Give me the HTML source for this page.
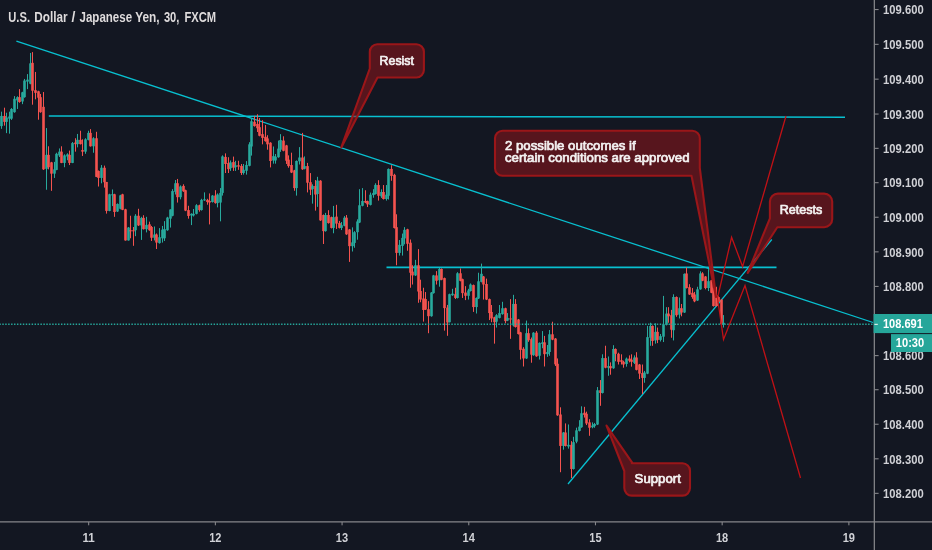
<!DOCTYPE html>
<html lang="en"><head><meta charset="utf-8"><title>U.S. Dollar / Japanese Yen, 30, FXCM</title>
<style>html,body{margin:0;padding:0;background:#131722;overflow:hidden}svg{display:block}text{font-family:"Liberation Sans", "DejaVu Sans", sans-serif}</style></head><body>
<svg width="932" height="550" viewBox="0 0 932 550">
<rect width="932" height="550" fill="#131722"/>
<g stroke="#08c0d0" stroke-linecap="butt" fill="none">
<line x1="16.4" y1="41.1" x2="873.1" y2="322.5" stroke-width="1.3"/>
<line x1="48.8" y1="116.0" x2="845" y2="117.2" stroke-width="1.45"/>
<line x1="386.5" y1="267.4" x2="776.5" y2="267.4" stroke-width="1.6"/>
<line x1="568" y1="484" x2="771.8" y2="239.5" stroke-width="1.3"/>
</g>
<g id="candles">
<rect x="1" y="111.65" width="1" height="17.17" fill="#28aa9d"/><rect x="0.2" y="115.94" width="2.6" height="10.19" fill="#28aa9d"/>
<rect x="4" y="107.68" width="1" height="17.92" fill="#f5534f"/><rect x="3.2" y="115.94" width="2.6" height="5.9" fill="#f5534f"/>
<rect x="6" y="112.73" width="1" height="20.39" fill="#28aa9d"/><rect x="5.2" y="117.55" width="2.6" height="4.29" fill="#28aa9d"/>
<rect x="9" y="111.65" width="1" height="22" fill="#28aa9d"/><rect x="8.2" y="116.48" width="2.6" height="2.15" fill="#28aa9d"/>
<rect x="11" y="108.11" width="1" height="11.8" fill="#28aa9d"/><rect x="10.2" y="108.97" width="2.6" height="9.66" fill="#28aa9d"/>
<rect x="14" y="96.09" width="1" height="16.63" fill="#28aa9d"/><rect x="13.2" y="98.78" width="2.6" height="13.41" fill="#28aa9d"/>
<rect x="17" y="96.31" width="1" height="12.66" fill="#28aa9d"/><rect x="16.2" y="97.17" width="2.6" height="3.22" fill="#28aa9d"/>
<rect x="19" y="89.12" width="1" height="13.63" fill="#f5534f"/><rect x="18.2" y="97.17" width="2.6" height="4.83" fill="#f5534f"/>
<rect x="22" y="91.8" width="1" height="12.34" fill="#28aa9d"/><rect x="21.2" y="92.34" width="2.6" height="9.12" fill="#28aa9d"/>
<rect x="24" y="78.93" width="1" height="18.78" fill="#28aa9d"/><rect x="23.2" y="80.54" width="2.6" height="16.63" fill="#28aa9d"/>
<rect x="27" y="74.1" width="1" height="15.02" fill="#28aa9d"/><rect x="26.2" y="79.68" width="2.6" height="1.93" fill="#28aa9d"/>
<rect x="30" y="52.96" width="1" height="31.33" fill="#28aa9d"/><rect x="29.2" y="63.37" width="2.6" height="20.39" fill="#28aa9d"/>
<rect x="32" y="52.1" width="1" height="52.58" fill="#f5534f"/><rect x="31.2" y="62.83" width="2.6" height="27.9" fill="#f5534f"/>
<rect x="35" y="71.95" width="1" height="27.36" fill="#f5534f"/><rect x="34.2" y="90.19" width="2.6" height="2.68" fill="#f5534f"/>
<rect x="38" y="90.73" width="1" height="28.97" fill="#f5534f"/><rect x="37.2" y="91.27" width="2.6" height="6.44" fill="#f5534f"/>
<rect x="40" y="93.95" width="1" height="18.78" fill="#f5534f"/><rect x="39.2" y="97.17" width="2.6" height="15.02" fill="#f5534f"/>
<rect x="43" y="92.02" width="1" height="77.88" fill="#f5534f"/><rect x="42.2" y="106.82" width="2.6" height="62.53" fill="#f5534f"/>
<rect x="46" y="128.05" width="1" height="61.7" fill="#28aa9d"/><rect x="45.2" y="154.87" width="2.6" height="13.95" fill="#28aa9d"/>
<rect x="48" y="146.29" width="1" height="23.07" fill="#f5534f"/><rect x="47.2" y="154.87" width="2.6" height="12.34" fill="#f5534f"/>
<rect x="51" y="161.85" width="1" height="28.97" fill="#f5534f"/><rect x="50.2" y="162.38" width="2.6" height="11.27" fill="#f5534f"/>
<rect x="54" y="161.85" width="1" height="16.09" fill="#28aa9d"/><rect x="53.2" y="169.36" width="2.6" height="4.29" fill="#28aa9d"/>
<rect x="56" y="152.73" width="1" height="17.49" fill="#28aa9d"/><rect x="55.2" y="153.8" width="2.6" height="16.09" fill="#28aa9d"/>
<rect x="59" y="148.43" width="1" height="8.58" fill="#28aa9d"/><rect x="58.2" y="151.65" width="2.6" height="3.76" fill="#28aa9d"/>
<rect x="61" y="146.29" width="1" height="16.85" fill="#f5534f"/><rect x="60.2" y="151.65" width="2.6" height="11.27" fill="#f5534f"/>
<rect x="64" y="154.33" width="1" height="12.88" fill="#28aa9d"/><rect x="63.2" y="155.41" width="2.6" height="7.51" fill="#28aa9d"/>
<rect x="67" y="153.26" width="1" height="6.97" fill="#28aa9d"/><rect x="66.2" y="154.33" width="2.6" height="2.15" fill="#28aa9d"/>
<rect x="69" y="150.58" width="1" height="14.48" fill="#f5534f"/><rect x="68.2" y="154.87" width="2.6" height="8.05" fill="#f5534f"/>
<rect x="72" y="142" width="1" height="21.14" fill="#28aa9d"/><rect x="71.2" y="143.07" width="2.6" height="19.85" fill="#28aa9d"/>
<rect x="75" y="138.24" width="1" height="13.41" fill="#f5534f"/><rect x="74.2" y="142.53" width="2.6" height="1.61" fill="#f5534f"/>
<rect x="77" y="133.95" width="1" height="13.41" fill="#28aa9d"/><rect x="76.2" y="139.85" width="2.6" height="4.29" fill="#28aa9d"/>
<rect x="80" y="130.73" width="1" height="13.73" fill="#f5534f"/><rect x="79.2" y="139.85" width="2.6" height="4.29" fill="#f5534f"/>
<rect x="82" y="139.31" width="1" height="16.63" fill="#f5534f"/><rect x="81.2" y="150.04" width="2.6" height="1.61" fill="#f5534f"/>
<rect x="85" y="138.24" width="1" height="15.56" fill="#28aa9d"/><rect x="84.2" y="139.31" width="2.6" height="12.34" fill="#28aa9d"/>
<rect x="88" y="130.73" width="1" height="9.66" fill="#28aa9d"/><rect x="87.2" y="132.88" width="2.6" height="6.97" fill="#28aa9d"/>
<rect x="90" y="129.12" width="1" height="17.49" fill="#f5534f"/><rect x="89.2" y="132.88" width="2.6" height="13.41" fill="#f5534f"/>
<rect x="93" y="137.17" width="1" height="15.56" fill="#28aa9d"/><rect x="92.2" y="138.24" width="2.6" height="8.05" fill="#28aa9d"/>
<rect x="96" y="131.8" width="1" height="45.28" fill="#f5534f"/><rect x="95.2" y="138.24" width="2.6" height="38.63" fill="#f5534f"/>
<rect x="98" y="170.43" width="1" height="16.09" fill="#f5534f"/><rect x="97.2" y="170.97" width="2.6" height="6.97" fill="#f5534f"/>
<rect x="101" y="165.06" width="1" height="18.24" fill="#28aa9d"/><rect x="100.2" y="167.75" width="2.6" height="10.19" fill="#28aa9d"/>
<rect x="104" y="165.6" width="1" height="22" fill="#f5534f"/><rect x="103.2" y="167.75" width="2.6" height="14.48" fill="#f5534f"/>
<rect x="106" y="181.95" width="1" height="31.65" fill="#f5534f"/><rect x="105.2" y="181.95" width="2.6" height="28.97" fill="#f5534f"/>
<rect x="109" y="193.76" width="1" height="17.49" fill="#28aa9d"/><rect x="108.2" y="194.29" width="2.6" height="16.63" fill="#28aa9d"/>
<rect x="112" y="189.46" width="1" height="16.63" fill="#28aa9d"/><rect x="111.2" y="194.29" width="2.6" height="1.07" fill="#28aa9d"/>
<rect x="114" y="193.76" width="1" height="23.07" fill="#f5534f"/><rect x="113.2" y="194.29" width="2.6" height="17.7" fill="#f5534f"/>
<rect x="117" y="203.41" width="1" height="8.58" fill="#28aa9d"/><rect x="116.2" y="203.95" width="2.6" height="7.51" fill="#28aa9d"/>
<rect x="120" y="194.83" width="1" height="14.48" fill="#28aa9d"/><rect x="119.2" y="195.36" width="2.6" height="13.41" fill="#28aa9d"/>
<rect x="122" y="193.76" width="1" height="16.42" fill="#f5534f"/><rect x="121.2" y="194.29" width="2.6" height="15.56" fill="#f5534f"/>
<rect x="125" y="208.78" width="1" height="31.87" fill="#f5534f"/><rect x="124.2" y="209.31" width="2.6" height="31.12" fill="#f5534f"/>
<rect x="128" y="227.02" width="1" height="13.63" fill="#28aa9d"/><rect x="127.2" y="227.55" width="2.6" height="12.88" fill="#28aa9d"/>
<rect x="130" y="215.75" width="1" height="22.53" fill="#f5534f"/><rect x="129.2" y="230.24" width="2.6" height="1.07" fill="#f5534f"/>
<rect x="133" y="227.02" width="1" height="18.78" fill="#f5534f"/><rect x="132.2" y="230.24" width="2.6" height="1.07" fill="#f5534f"/>
<rect x="135" y="214.14" width="1" height="22" fill="#28aa9d"/><rect x="134.2" y="215.75" width="2.6" height="14.48" fill="#28aa9d"/>
<rect x="138" y="208.78" width="1" height="17.17" fill="#f5534f"/><rect x="137.2" y="215.75" width="2.6" height="9.66" fill="#f5534f"/>
<rect x="141" y="216.82" width="1" height="23.07" fill="#28aa9d"/><rect x="140.2" y="217.9" width="2.6" height="7.51" fill="#28aa9d"/>
<rect x="143" y="215.21" width="1" height="14.27" fill="#f5534f"/><rect x="142.2" y="217.9" width="2.6" height="11.27" fill="#f5534f"/>
<rect x="146" y="216.82" width="1" height="15.56" fill="#28aa9d"/><rect x="145.2" y="224.87" width="2.6" height="4.29" fill="#28aa9d"/>
<rect x="149" y="221.65" width="1" height="9.12" fill="#f5534f"/><rect x="148.2" y="224.33" width="2.6" height="5.9" fill="#f5534f"/>
<rect x="151" y="225.94" width="1" height="15.02" fill="#f5534f"/><rect x="150.2" y="227.02" width="2.6" height="10.73" fill="#f5534f"/>
<rect x="154" y="226.48" width="1" height="13.95" fill="#28aa9d"/><rect x="153.2" y="234.53" width="2.6" height="3.22" fill="#28aa9d"/>
<rect x="156" y="233.45" width="1" height="15.56" fill="#f5534f"/><rect x="155.2" y="234.53" width="2.6" height="8.05" fill="#f5534f"/>
<rect x="159" y="228.09" width="1" height="15.56" fill="#28aa9d"/><rect x="158.2" y="237.21" width="2.6" height="5.9" fill="#28aa9d"/>
<rect x="162" y="225.94" width="1" height="16.63" fill="#28aa9d"/><rect x="161.2" y="229.7" width="2.6" height="8.58" fill="#28aa9d"/>
<rect x="164" y="221.12" width="1" height="19.85" fill="#28aa9d"/><rect x="163.2" y="229.16" width="2.6" height="9.12" fill="#28aa9d"/>
<rect x="167" y="216.82" width="1" height="13.95" fill="#28aa9d"/><rect x="166.2" y="217.58" width="2.6" height="12.66" fill="#28aa9d"/>
<rect x="170" y="209.31" width="1" height="18.24" fill="#28aa9d"/><rect x="169.2" y="209.53" width="2.6" height="9.12" fill="#28aa9d"/>
<rect x="172" y="189.14" width="1" height="27.15" fill="#28aa9d"/><rect x="171.2" y="191.07" width="2.6" height="24.68" fill="#28aa9d"/>
<rect x="175" y="180.02" width="1" height="14.48" fill="#28aa9d"/><rect x="174.2" y="183.24" width="2.6" height="8.58" fill="#28aa9d"/>
<rect x="177" y="178.95" width="1" height="23.61" fill="#f5534f"/><rect x="176.2" y="183.24" width="2.6" height="13.95" fill="#f5534f"/>
<rect x="180" y="185.39" width="1" height="13.95" fill="#28aa9d"/><rect x="179.2" y="186.46" width="2.6" height="10.73" fill="#28aa9d"/>
<rect x="183" y="184.31" width="1" height="7.51" fill="#f5534f"/><rect x="182.2" y="185.92" width="2.6" height="5.36" fill="#f5534f"/>
<rect x="185" y="189.68" width="1" height="21.46" fill="#f5534f"/><rect x="184.2" y="190.21" width="2.6" height="20.39" fill="#f5534f"/>
<rect x="188" y="205.77" width="1" height="12.88" fill="#f5534f"/><rect x="187.2" y="210.06" width="2.6" height="5.9" fill="#f5534f"/>
<rect x="191" y="213.28" width="1" height="11.8" fill="#28aa9d"/><rect x="190.2" y="213.82" width="2.6" height="1.61" fill="#28aa9d"/>
<rect x="193" y="208.99" width="1" height="7.51" fill="#28aa9d"/><rect x="192.2" y="213.82" width="2.6" height="1.61" fill="#28aa9d"/>
<rect x="196" y="204.16" width="1" height="10.19" fill="#28aa9d"/><rect x="195.2" y="205.24" width="2.6" height="8.58" fill="#28aa9d"/>
<rect x="199" y="204.7" width="1" height="6.97" fill="#f5534f"/><rect x="198.2" y="205.24" width="2.6" height="4.83" fill="#f5534f"/>
<rect x="201" y="198.8" width="1" height="11.8" fill="#28aa9d"/><rect x="200.2" y="199.87" width="2.6" height="10.19" fill="#28aa9d"/>
<rect x="204" y="192.36" width="1" height="8.58" fill="#28aa9d"/><rect x="203.2" y="199.33" width="2.6" height="1.07" fill="#28aa9d"/>
<rect x="207" y="198.8" width="1" height="5.9" fill="#f5534f"/><rect x="206.2" y="199.87" width="2.6" height="2.15" fill="#f5534f"/>
<rect x="209" y="193.43" width="1" height="30.97" fill="#f5534f"/><rect x="208.2" y="200.94" width="2.6" height="1.61" fill="#f5534f"/>
<rect x="212" y="195.04" width="1" height="7.51" fill="#28aa9d"/><rect x="211.2" y="195.58" width="2.6" height="6.44" fill="#28aa9d"/>
<rect x="215" y="190.21" width="1" height="13.41" fill="#f5534f"/><rect x="214.2" y="195.58" width="2.6" height="7.51" fill="#f5534f"/>
<rect x="217" y="193.43" width="1" height="13.95" fill="#28aa9d"/><rect x="216.2" y="194.51" width="2.6" height="8.58" fill="#28aa9d"/>
<rect x="220" y="188.07" width="1" height="33.26" fill="#28aa9d"/><rect x="219.2" y="192.9" width="2.6" height="9.66" fill="#28aa9d"/>
<rect x="222" y="155.34" width="1" height="40.24" fill="#28aa9d"/><rect x="221.2" y="156.42" width="2.6" height="36.48" fill="#28aa9d"/>
<rect x="225" y="153.37" width="1" height="19.64" fill="#f5534f"/><rect x="224.2" y="156.91" width="2.6" height="7.08" fill="#f5534f"/>
<rect x="228" y="157.23" width="1" height="15.78" fill="#f5534f"/><rect x="227.2" y="163.03" width="2.6" height="6.12" fill="#f5534f"/>
<rect x="230" y="160.45" width="1" height="10.45" fill="#28aa9d"/><rect x="229.2" y="162.39" width="2.6" height="5.83" fill="#28aa9d"/>
<rect x="233" y="156.59" width="1" height="14.31" fill="#f5534f"/><rect x="232.2" y="162.06" width="2.6" height="5.62" fill="#f5534f"/>
<rect x="235" y="160.78" width="1" height="10.13" fill="#28aa9d"/><rect x="234.2" y="165.28" width="2.6" height="1.86" fill="#28aa9d"/>
<rect x="238" y="160.78" width="1" height="9.05" fill="#f5534f"/><rect x="237.2" y="165.28" width="2.6" height="1.33" fill="#f5534f"/>
<rect x="241" y="164" width="1" height="10.95" fill="#f5534f"/><rect x="240.2" y="165.93" width="2.6" height="7.08" fill="#f5534f"/>
<rect x="243" y="164" width="1" height="10.62" fill="#28aa9d"/><rect x="242.2" y="169.79" width="2.6" height="3.22" fill="#28aa9d"/>
<rect x="246" y="161.1" width="1" height="13.52" fill="#28aa9d"/><rect x="245.2" y="164.96" width="2.6" height="5.8" fill="#28aa9d"/>
<rect x="249" y="142.19" width="1" height="24.14" fill="#28aa9d"/><rect x="248.2" y="144.33" width="2.6" height="21.46" fill="#28aa9d"/>
<rect x="251" y="118.05" width="1" height="37.55" fill="#28aa9d"/><rect x="250.2" y="121.27" width="2.6" height="25.21" fill="#28aa9d"/>
<rect x="254" y="115.9" width="1" height="10.73" fill="#f5534f"/><rect x="253.2" y="121.8" width="2.6" height="4.29" fill="#f5534f"/>
<rect x="257" y="114.29" width="1" height="17.7" fill="#f5534f"/><rect x="256.2" y="123.95" width="2.6" height="4.29" fill="#f5534f"/>
<rect x="259" y="118.05" width="1" height="18.24" fill="#f5534f"/><rect x="258.2" y="127.17" width="2.6" height="8.58" fill="#f5534f"/>
<rect x="262" y="120.19" width="1" height="24.14" fill="#f5534f"/><rect x="261.2" y="134.14" width="2.6" height="3.76" fill="#f5534f"/>
<rect x="265" y="125.02" width="1" height="16.63" fill="#f5534f"/><rect x="264.2" y="136.82" width="2.6" height="4.29" fill="#f5534f"/>
<rect x="267" y="135.21" width="1" height="14.48" fill="#f5534f"/><rect x="266.2" y="138.43" width="2.6" height="5.9" fill="#f5534f"/>
<rect x="270" y="142.19" width="1" height="25.21" fill="#f5534f"/><rect x="269.2" y="142.73" width="2.6" height="18.24" fill="#f5534f"/>
<rect x="273" y="146.48" width="1" height="17.17" fill="#28aa9d"/><rect x="272.2" y="156.14" width="2.6" height="4.29" fill="#28aa9d"/>
<rect x="275" y="153.99" width="1" height="9.66" fill="#28aa9d"/><rect x="274.2" y="156.67" width="2.6" height="3.76" fill="#28aa9d"/>
<rect x="278" y="140.58" width="1" height="17.17" fill="#28aa9d"/><rect x="277.2" y="148.63" width="2.6" height="8.58" fill="#28aa9d"/>
<rect x="280" y="134.14" width="1" height="17.7" fill="#28aa9d"/><rect x="279.2" y="140.04" width="2.6" height="9.66" fill="#28aa9d"/>
<rect x="283" y="136.29" width="1" height="15.02" fill="#f5534f"/><rect x="282.2" y="140.58" width="2.6" height="10.19" fill="#f5534f"/>
<rect x="286" y="144.87" width="1" height="19.08" fill="#f5534f"/><rect x="285.2" y="145.41" width="2.6" height="15.32" fill="#f5534f"/>
<rect x="288" y="155.36" width="1" height="12.34" fill="#f5534f"/><rect x="287.2" y="159.66" width="2.6" height="6.44" fill="#f5534f"/>
<rect x="291" y="152.68" width="1" height="20.39" fill="#f5534f"/><rect x="290.2" y="165.02" width="2.6" height="7.51" fill="#f5534f"/>
<rect x="294" y="169.85" width="1" height="20.92" fill="#f5534f"/><rect x="293.2" y="170.39" width="2.6" height="17.7" fill="#f5534f"/>
<rect x="296" y="160.43" width="1" height="35.17" fill="#28aa9d"/><rect x="295.2" y="160.97" width="2.6" height="27.12" fill="#28aa9d"/>
<rect x="299" y="147.1" width="1" height="17.38" fill="#28aa9d"/><rect x="298.2" y="157.51" width="2.6" height="3.76" fill="#28aa9d"/>
<rect x="302" y="132.9" width="1" height="36.95" fill="#f5534f"/><rect x="301.2" y="157.51" width="2.6" height="11.8" fill="#f5534f"/>
<rect x="304" y="156.44" width="1" height="12.88" fill="#28aa9d"/><rect x="303.2" y="166.09" width="2.6" height="2.68" fill="#28aa9d"/>
<rect x="307" y="162.88" width="1" height="29.51" fill="#f5534f"/><rect x="306.2" y="166.09" width="2.6" height="16.63" fill="#f5534f"/>
<rect x="310" y="173.07" width="1" height="22" fill="#f5534f"/><rect x="309.2" y="182.19" width="2.6" height="7.51" fill="#f5534f"/>
<rect x="312" y="184.33" width="1" height="19.31" fill="#28aa9d"/><rect x="311.2" y="185.94" width="2.6" height="3.22" fill="#28aa9d"/>
<rect x="315" y="180.04" width="1" height="30.58" fill="#f5534f"/><rect x="314.2" y="185.94" width="2.6" height="8.58" fill="#f5534f"/>
<rect x="317" y="176.82" width="1" height="30.04" fill="#28aa9d"/><rect x="316.2" y="180.58" width="2.6" height="13.41" fill="#28aa9d"/>
<rect x="320" y="180.15" width="1" height="40.77" fill="#f5534f"/><rect x="319.2" y="180.69" width="2.6" height="39.7" fill="#f5534f"/>
<rect x="323" y="214.48" width="1" height="29.51" fill="#f5534f"/><rect x="322.2" y="215.02" width="2.6" height="16.09" fill="#f5534f"/>
<rect x="325" y="212.88" width="1" height="18.78" fill="#28aa9d"/><rect x="324.2" y="215.02" width="2.6" height="16.09" fill="#28aa9d"/>
<rect x="328" y="210.19" width="1" height="13.41" fill="#f5534f"/><rect x="327.2" y="215.02" width="2.6" height="8.05" fill="#f5534f"/>
<rect x="331" y="216.63" width="1" height="11.8" fill="#f5534f"/><rect x="330.2" y="217.17" width="2.6" height="10.73" fill="#f5534f"/>
<rect x="333" y="205.9" width="1" height="27.36" fill="#28aa9d"/><rect x="332.2" y="217.17" width="2.6" height="10.73" fill="#28aa9d"/>
<rect x="336" y="204.83" width="1" height="24.14" fill="#f5534f"/><rect x="335.2" y="216.63" width="2.6" height="6.97" fill="#f5534f"/>
<rect x="339" y="220.92" width="1" height="7.51" fill="#f5534f"/><rect x="338.2" y="223.07" width="2.6" height="4.83" fill="#f5534f"/>
<rect x="341" y="222" width="1" height="8.05" fill="#28aa9d"/><rect x="340.2" y="225.21" width="2.6" height="2.68" fill="#28aa9d"/>
<rect x="344" y="216.09" width="1" height="10.19" fill="#28aa9d"/><rect x="343.2" y="217.7" width="2.6" height="8.05" fill="#28aa9d"/>
<rect x="346" y="215.02" width="1" height="19.85" fill="#f5534f"/><rect x="345.2" y="217.7" width="2.6" height="16.63" fill="#f5534f"/>
<rect x="349" y="228.97" width="1" height="32.93" fill="#f5534f"/><rect x="348.2" y="229.51" width="2.6" height="16.63" fill="#f5534f"/>
<rect x="352" y="227.36" width="1" height="24.14" fill="#28aa9d"/><rect x="351.2" y="242.38" width="2.6" height="3.76" fill="#28aa9d"/>
<rect x="354" y="231.12" width="1" height="16.63" fill="#28aa9d"/><rect x="353.2" y="232.19" width="2.6" height="10.73" fill="#28aa9d"/>
<rect x="357" y="219.31" width="1" height="20.39" fill="#28aa9d"/><rect x="356.2" y="221.46" width="2.6" height="10.73" fill="#28aa9d"/>
<rect x="359" y="189.16" width="1" height="33.91" fill="#28aa9d"/><rect x="358.2" y="205.26" width="2.6" height="17.27" fill="#28aa9d"/>
<rect x="362" y="188.09" width="1" height="18.24" fill="#28aa9d"/><rect x="361.2" y="200.97" width="2.6" height="4.83" fill="#28aa9d"/>
<rect x="365" y="190.24" width="1" height="12.88" fill="#f5534f"/><rect x="364.2" y="200.97" width="2.6" height="1.61" fill="#f5534f"/>
<rect x="367" y="200.6" width="1" height="6.44" fill="#f5534f"/><rect x="366.2" y="201.14" width="2.6" height="3.22" fill="#f5534f"/>
<rect x="370" y="192.55" width="1" height="12.88" fill="#28aa9d"/><rect x="369.2" y="194.7" width="2.6" height="10.19" fill="#28aa9d"/>
<rect x="373" y="189.16" width="1" height="8.58" fill="#28aa9d"/><rect x="372.2" y="192.92" width="2.6" height="2.15" fill="#28aa9d"/>
<rect x="375" y="183.26" width="1" height="11.27" fill="#28aa9d"/><rect x="374.2" y="184.87" width="2.6" height="9.12" fill="#28aa9d"/>
<rect x="378" y="180.21" width="1" height="20.39" fill="#f5534f"/><rect x="377.2" y="185.04" width="2.6" height="10.73" fill="#f5534f"/>
<rect x="381" y="189.33" width="1" height="8.58" fill="#28aa9d"/><rect x="380.2" y="192.02" width="2.6" height="4.29" fill="#28aa9d"/>
<rect x="383" y="185.04" width="1" height="14.48" fill="#f5534f"/><rect x="382.2" y="192.02" width="2.6" height="6.97" fill="#f5534f"/>
<rect x="386" y="185.04" width="1" height="15.56" fill="#28aa9d"/><rect x="385.2" y="194.7" width="2.6" height="4.29" fill="#28aa9d"/>
<rect x="388" y="168.41" width="1" height="31.12" fill="#28aa9d"/><rect x="387.2" y="168.95" width="2.6" height="26.82" fill="#28aa9d"/>
<rect x="391" y="165.19" width="1" height="15.56" fill="#f5534f"/><rect x="390.2" y="168.95" width="2.6" height="6.97" fill="#f5534f"/>
<rect x="394" y="173.78" width="1" height="54.72" fill="#f5534f"/><rect x="393.2" y="174.85" width="2.6" height="53.11" fill="#f5534f"/>
<rect x="396" y="214.27" width="1" height="50.97" fill="#f5534f"/><rect x="395.2" y="227.15" width="2.6" height="25.75" fill="#f5534f"/>
<rect x="399" y="240.02" width="1" height="15.56" fill="#28aa9d"/><rect x="398.2" y="244.85" width="2.6" height="8.05" fill="#28aa9d"/>
<rect x="402" y="233.58" width="1" height="22" fill="#28aa9d"/><rect x="401.2" y="237.88" width="2.6" height="8.05" fill="#28aa9d"/>
<rect x="404" y="227.15" width="1" height="17.17" fill="#28aa9d"/><rect x="403.2" y="229.83" width="2.6" height="8.58" fill="#28aa9d"/>
<rect x="407" y="228.76" width="1" height="22" fill="#f5534f"/><rect x="406.2" y="229.29" width="2.6" height="14.48" fill="#f5534f"/>
<rect x="410" y="239.5" width="1" height="48.25" fill="#f5534f"/><rect x="409.2" y="242.7" width="2.6" height="30.03" fill="#f5534f"/>
<rect x="412" y="265.22" width="1" height="19.31" fill="#f5534f"/><rect x="411.2" y="271.66" width="2.6" height="3.76" fill="#f5534f"/>
<rect x="415" y="259.85" width="1" height="16.09" fill="#28aa9d"/><rect x="414.2" y="265.22" width="2.6" height="10.19" fill="#28aa9d"/>
<rect x="418" y="249.12" width="1" height="53.65" fill="#f5534f"/><rect x="417.2" y="265.22" width="2.6" height="26.29" fill="#f5534f"/>
<rect x="420" y="279.7" width="1" height="22.53" fill="#f5534f"/><rect x="419.2" y="290.97" width="2.6" height="8.58" fill="#f5534f"/>
<rect x="423" y="287.75" width="1" height="33.85" fill="#f5534f"/><rect x="422.2" y="298.48" width="2.6" height="11.52" fill="#f5534f"/>
<rect x="425" y="292.04" width="1" height="17.96" fill="#f5534f"/><rect x="424.2" y="299.02" width="2.6" height="10.48" fill="#f5534f"/>
<rect x="428" y="301.16" width="1" height="32.04" fill="#f5534f"/><rect x="427.2" y="309.21" width="2.6" height="6.97" fill="#f5534f"/>
<rect x="431" y="292.04" width="1" height="24.68" fill="#28aa9d"/><rect x="430.2" y="292.58" width="2.6" height="23.61" fill="#28aa9d"/>
<rect x="433" y="274.88" width="1" height="18.78" fill="#28aa9d"/><rect x="432.2" y="275.41" width="2.6" height="17.7" fill="#28aa9d"/>
<rect x="436" y="271.12" width="1" height="13.41" fill="#f5534f"/><rect x="435.2" y="275.41" width="2.6" height="5.36" fill="#f5534f"/>
<rect x="439" y="267.9" width="1" height="18.78" fill="#28aa9d"/><rect x="438.2" y="268.97" width="2.6" height="11.27" fill="#28aa9d"/>
<rect x="441" y="268.44" width="1" height="11.8" fill="#f5534f"/><rect x="440.2" y="268.97" width="2.6" height="10.73" fill="#f5534f"/>
<rect x="444" y="277.56" width="1" height="53.04" fill="#f5534f"/><rect x="443.2" y="278.09" width="2.6" height="30.04" fill="#f5534f"/>
<rect x="447" y="304.92" width="1" height="30.88" fill="#f5534f"/><rect x="446.2" y="307.6" width="2.6" height="14.9" fill="#f5534f"/>
<rect x="449" y="293.65" width="1" height="28.85" fill="#28aa9d"/><rect x="448.2" y="294.19" width="2.6" height="28.01" fill="#28aa9d"/>
<rect x="452" y="288.82" width="1" height="6.97" fill="#28aa9d"/><rect x="451.2" y="293.65" width="2.6" height="1.61" fill="#28aa9d"/>
<rect x="455" y="287.75" width="1" height="11.27" fill="#f5534f"/><rect x="454.2" y="294.19" width="2.6" height="3.76" fill="#f5534f"/>
<rect x="457" y="272.19" width="1" height="26.29" fill="#28aa9d"/><rect x="456.2" y="273.27" width="2.6" height="24.68" fill="#28aa9d"/>
<rect x="460" y="268.44" width="1" height="12.88" fill="#f5534f"/><rect x="459.2" y="273.27" width="2.6" height="7.51" fill="#f5534f"/>
<rect x="462" y="278.63" width="1" height="19.31" fill="#f5534f"/><rect x="461.2" y="279.17" width="2.6" height="13.95" fill="#f5534f"/>
<rect x="465" y="286.14" width="1" height="13.95" fill="#f5534f"/><rect x="464.2" y="292.58" width="2.6" height="3.22" fill="#f5534f"/>
<rect x="468" y="288.82" width="1" height="10.73" fill="#28aa9d"/><rect x="467.2" y="290.43" width="2.6" height="5.36" fill="#28aa9d"/>
<rect x="470" y="283.46" width="1" height="8.05" fill="#28aa9d"/><rect x="469.2" y="284.53" width="2.6" height="6.44" fill="#28aa9d"/>
<rect x="473" y="284.53" width="1" height="27.36" fill="#f5534f"/><rect x="472.2" y="285.07" width="2.6" height="22" fill="#f5534f"/>
<rect x="476" y="297.41" width="1" height="16.09" fill="#28aa9d"/><rect x="475.2" y="297.94" width="2.6" height="9.12" fill="#28aa9d"/>
<rect x="478" y="272.73" width="1" height="26.29" fill="#28aa9d"/><rect x="477.2" y="281.31" width="2.6" height="17.17" fill="#28aa9d"/>
<rect x="481" y="263.61" width="1" height="18.78" fill="#28aa9d"/><rect x="480.2" y="273.8" width="2.6" height="8.05" fill="#28aa9d"/>
<rect x="483" y="275.95" width="1" height="23.61" fill="#f5534f"/><rect x="482.2" y="276.48" width="2.6" height="8.05" fill="#f5534f"/>
<rect x="486" y="278.63" width="1" height="21.46" fill="#f5534f"/><rect x="485.2" y="284" width="2.6" height="15.56" fill="#f5534f"/>
<rect x="489" y="298.58" width="1" height="21.46" fill="#f5534f"/><rect x="488.2" y="299.12" width="2.6" height="13.95" fill="#f5534f"/>
<rect x="491" y="305.02" width="1" height="17.17" fill="#f5534f"/><rect x="490.2" y="312" width="2.6" height="6.44" fill="#f5534f"/>
<rect x="494" y="316.72" width="1" height="26.93" fill="#f5534f"/><rect x="493.2" y="317.26" width="2.6" height="4.93" fill="#f5534f"/>
<rect x="496" y="314.14" width="1" height="13.41" fill="#28aa9d"/><rect x="495.2" y="315.21" width="2.6" height="6.44" fill="#28aa9d"/>
<rect x="499" y="305.02" width="1" height="13.41" fill="#28aa9d"/><rect x="498.2" y="313.07" width="2.6" height="4.83" fill="#28aa9d"/>
<rect x="502" y="301.8" width="1" height="12.88" fill="#28aa9d"/><rect x="501.2" y="308.24" width="2.6" height="5.9" fill="#28aa9d"/>
<rect x="505" y="307.7" width="1" height="15.56" fill="#f5534f"/><rect x="504.2" y="308.24" width="2.6" height="12.88" fill="#f5534f"/>
<rect x="507" y="313.07" width="1" height="8.05" fill="#28aa9d"/><rect x="506.2" y="317.9" width="2.6" height="2.68" fill="#28aa9d"/>
<rect x="510" y="299.12" width="1" height="39.7" fill="#f5534f"/><rect x="509.2" y="318.43" width="2.6" height="1.07" fill="#f5534f"/>
<rect x="513" y="294.83" width="1" height="31.65" fill="#28aa9d"/><rect x="512.2" y="303.95" width="2.6" height="21.46" fill="#28aa9d"/>
<rect x="515" y="299.12" width="1" height="28.43" fill="#f5534f"/><rect x="514.2" y="303.95" width="2.6" height="23.07" fill="#f5534f"/>
<rect x="518" y="318.97" width="1" height="15.56" fill="#f5534f"/><rect x="517.2" y="319.51" width="2.6" height="14.48" fill="#f5534f"/>
<rect x="520" y="331.85" width="1" height="27.66" fill="#f5534f"/><rect x="519.2" y="332.38" width="2.6" height="17.47" fill="#f5534f"/>
<rect x="523" y="347.17" width="1" height="19.31" fill="#f5534f"/><rect x="522.2" y="348.78" width="2.6" height="9.66" fill="#f5534f"/>
<rect x="526" y="320.6" width="1" height="38.37" fill="#28aa9d"/><rect x="525.2" y="333.22" width="2.6" height="25.21" fill="#28aa9d"/>
<rect x="528" y="328.39" width="1" height="13.41" fill="#f5534f"/><rect x="527.2" y="333.22" width="2.6" height="6.97" fill="#f5534f"/>
<rect x="531" y="337.51" width="1" height="25.21" fill="#f5534f"/><rect x="530.2" y="339.12" width="2.6" height="15.56" fill="#f5534f"/>
<rect x="533" y="332.15" width="1" height="23.61" fill="#28aa9d"/><rect x="532.2" y="332.68" width="2.6" height="22.53" fill="#28aa9d"/>
<rect x="536" y="331.07" width="1" height="25.75" fill="#f5534f"/><rect x="535.2" y="332.68" width="2.6" height="23.61" fill="#f5534f"/>
<rect x="539" y="342.34" width="1" height="17.17" fill="#28aa9d"/><rect x="538.2" y="342.88" width="2.6" height="12.88" fill="#28aa9d"/>
<rect x="542" y="331.07" width="1" height="17.17" fill="#28aa9d"/><rect x="541.2" y="342.34" width="2.6" height="1.61" fill="#28aa9d"/>
<rect x="544" y="335.9" width="1" height="30.58" fill="#f5534f"/><rect x="543.2" y="342.34" width="2.6" height="11.8" fill="#f5534f"/>
<rect x="547" y="345.02" width="1" height="11.8" fill="#28aa9d"/><rect x="546.2" y="352" width="2.6" height="2.15" fill="#28aa9d"/>
<rect x="549" y="330" width="1" height="25.75" fill="#28aa9d"/><rect x="548.2" y="334.29" width="2.6" height="17.7" fill="#28aa9d"/>
<rect x="552" y="321.74" width="1" height="18.45" fill="#f5534f"/><rect x="551.2" y="334.29" width="2.6" height="5.36" fill="#f5534f"/>
<rect x="555" y="338.05" width="1" height="27.9" fill="#f5534f"/><rect x="554.2" y="338.58" width="2.6" height="25.75" fill="#f5534f"/>
<rect x="557" y="358.43" width="1" height="57.4" fill="#f5534f"/><rect x="556.2" y="363.8" width="2.6" height="51.5" fill="#f5534f"/>
<rect x="560" y="407.3" width="1" height="64.91" fill="#f5534f"/><rect x="559.2" y="414.48" width="2.6" height="31.44" fill="#f5534f"/>
<rect x="563" y="431.97" width="1" height="17.7" fill="#28aa9d"/><rect x="562.2" y="432.51" width="2.6" height="13.41" fill="#28aa9d"/>
<rect x="565" y="423.39" width="1" height="23.07" fill="#f5534f"/><rect x="564.2" y="432.51" width="2.6" height="13.41" fill="#f5534f"/>
<rect x="568" y="424.46" width="1" height="24.14" fill="#28aa9d"/><rect x="567.2" y="444.85" width="2.6" height="1.61" fill="#28aa9d"/>
<rect x="571" y="441.09" width="1" height="37.02" fill="#f5534f"/><rect x="570.2" y="444.85" width="2.6" height="24.14" fill="#f5534f"/>
<rect x="573" y="436.8" width="1" height="32.73" fill="#28aa9d"/><rect x="572.2" y="442.17" width="2.6" height="26.82" fill="#28aa9d"/>
<rect x="576" y="427.68" width="1" height="15.56" fill="#28aa9d"/><rect x="575.2" y="430.36" width="2.6" height="11.27" fill="#28aa9d"/>
<rect x="579" y="420.17" width="1" height="11.27" fill="#28aa9d"/><rect x="578.2" y="426.61" width="2.6" height="4.29" fill="#28aa9d"/>
<rect x="581" y="406.29" width="1" height="21.46" fill="#28aa9d"/><rect x="580.2" y="413.26" width="2.6" height="13.95" fill="#28aa9d"/>
<rect x="584" y="406.82" width="1" height="10.73" fill="#f5534f"/><rect x="583.2" y="412.73" width="2.6" height="2.15" fill="#f5534f"/>
<rect x="586" y="411.65" width="1" height="13.41" fill="#f5534f"/><rect x="585.2" y="413.8" width="2.6" height="9.66" fill="#f5534f"/>
<rect x="589" y="419.16" width="1" height="16.63" fill="#f5534f"/><rect x="588.2" y="422.38" width="2.6" height="5.36" fill="#f5534f"/>
<rect x="592" y="422.38" width="1" height="5.9" fill="#28aa9d"/><rect x="591.2" y="425.6" width="2.6" height="1.61" fill="#28aa9d"/>
<rect x="594" y="422.92" width="1" height="4.83" fill="#28aa9d"/><rect x="593.2" y="423.99" width="2.6" height="2.15" fill="#28aa9d"/>
<rect x="597" y="387.04" width="1" height="38.03" fill="#28aa9d"/><rect x="596.2" y="390.26" width="2.6" height="34.27" fill="#28aa9d"/>
<rect x="600" y="380.06" width="1" height="25.74" fill="#f5534f"/><rect x="599.2" y="390.26" width="2.6" height="2.68" fill="#f5534f"/>
<rect x="602" y="354.31" width="1" height="39.16" fill="#28aa9d"/><rect x="601.2" y="358.07" width="2.6" height="34.87" fill="#28aa9d"/>
<rect x="605" y="345.73" width="1" height="22.53" fill="#f5534f"/><rect x="604.2" y="358.07" width="2.6" height="9.66" fill="#f5534f"/>
<rect x="608" y="356.46" width="1" height="19.31" fill="#28aa9d"/><rect x="607.2" y="366.12" width="2.6" height="1.61" fill="#28aa9d"/>
<rect x="610" y="362.36" width="1" height="12.34" fill="#f5534f"/><rect x="609.2" y="366.12" width="2.6" height="2.15" fill="#f5534f"/>
<rect x="613" y="345.19" width="1" height="23.61" fill="#28aa9d"/><rect x="612.2" y="348.95" width="2.6" height="19.31" fill="#28aa9d"/>
<rect x="615" y="348.41" width="1" height="12.88" fill="#f5534f"/><rect x="614.2" y="348.95" width="2.6" height="4.83" fill="#f5534f"/>
<rect x="618" y="352.7" width="1" height="11.8" fill="#f5534f"/><rect x="617.2" y="353.78" width="2.6" height="8.05" fill="#f5534f"/>
<rect x="621" y="354.31" width="1" height="10.19" fill="#f5534f"/><rect x="620.2" y="360.21" width="2.6" height="1.61" fill="#f5534f"/>
<rect x="623" y="360.75" width="1" height="6.97" fill="#f5534f"/><rect x="622.2" y="361.82" width="2.6" height="2.68" fill="#f5534f"/>
<rect x="626" y="357.53" width="1" height="9.12" fill="#28aa9d"/><rect x="625.2" y="358.61" width="2.6" height="5.36" fill="#28aa9d"/>
<rect x="629" y="355.39" width="1" height="6.97" fill="#f5534f"/><rect x="628.2" y="358.61" width="2.6" height="2.15" fill="#f5534f"/>
<rect x="631" y="354.31" width="1" height="12.34" fill="#f5534f"/><rect x="630.2" y="359.68" width="2.6" height="2.15" fill="#f5534f"/>
<rect x="634" y="355.39" width="1" height="8.58" fill="#28aa9d"/><rect x="633.2" y="357.53" width="2.6" height="5.36" fill="#28aa9d"/>
<rect x="636" y="352.17" width="1" height="18.24" fill="#f5534f"/><rect x="635.2" y="357.53" width="2.6" height="12.34" fill="#f5534f"/>
<rect x="639" y="363.97" width="1" height="15.02" fill="#f5534f"/><rect x="638.2" y="364.51" width="2.6" height="9.12" fill="#f5534f"/>
<rect x="642" y="364.51" width="1" height="29.51" fill="#f5534f"/><rect x="641.2" y="373.09" width="2.6" height="4.83" fill="#f5534f"/>
<rect x="644" y="370.94" width="1" height="11.8" fill="#28aa9d"/><rect x="643.2" y="372.55" width="2.6" height="5.36" fill="#28aa9d"/>
<rect x="647" y="325.88" width="1" height="48.28" fill="#28aa9d"/><rect x="646.2" y="337.15" width="2.6" height="36.48" fill="#28aa9d"/>
<rect x="650" y="322.73" width="1" height="23.07" fill="#28aa9d"/><rect x="649.2" y="325.94" width="2.6" height="11.8" fill="#28aa9d"/>
<rect x="652" y="325.41" width="1" height="20.39" fill="#f5534f"/><rect x="651.2" y="325.94" width="2.6" height="15.02" fill="#f5534f"/>
<rect x="655" y="323.26" width="1" height="20.39" fill="#28aa9d"/><rect x="654.2" y="331.85" width="2.6" height="8.58" fill="#28aa9d"/>
<rect x="657" y="327.55" width="1" height="15.56" fill="#f5534f"/><rect x="656.2" y="331.85" width="2.6" height="8.05" fill="#f5534f"/>
<rect x="660" y="333.99" width="1" height="7.51" fill="#28aa9d"/><rect x="659.2" y="336.14" width="2.6" height="3.76" fill="#28aa9d"/>
<rect x="663" y="295.9" width="1" height="46.14" fill="#28aa9d"/><rect x="662.2" y="324.33" width="2.6" height="12.34" fill="#28aa9d"/>
<rect x="666" y="307.17" width="1" height="18.24" fill="#28aa9d"/><rect x="665.2" y="313.61" width="2.6" height="11.27" fill="#28aa9d"/>
<rect x="668" y="307.17" width="1" height="15.56" fill="#f5534f"/><rect x="667.2" y="313.61" width="2.6" height="2.68" fill="#f5534f"/>
<rect x="671" y="309.85" width="1" height="27.9" fill="#f5534f"/><rect x="670.2" y="315.21" width="2.6" height="14.48" fill="#f5534f"/>
<rect x="673" y="294.29" width="1" height="46.14" fill="#28aa9d"/><rect x="672.2" y="296.97" width="2.6" height="33.26" fill="#28aa9d"/>
<rect x="676" y="296.44" width="1" height="20.39" fill="#f5534f"/><rect x="675.2" y="296.97" width="2.6" height="18.24" fill="#f5534f"/>
<rect x="679" y="297.51" width="1" height="20.92" fill="#28aa9d"/><rect x="678.2" y="308.24" width="2.6" height="6.44" fill="#28aa9d"/>
<rect x="681" y="303.95" width="1" height="12.34" fill="#f5534f"/><rect x="680.2" y="308.24" width="2.6" height="4.29" fill="#f5534f"/>
<rect x="684" y="273.45" width="1" height="39.48" fill="#28aa9d"/><rect x="683.2" y="273.88" width="2.6" height="38.63" fill="#28aa9d"/>
<rect x="686" y="267.45" width="1" height="21.03" fill="#f5534f"/><rect x="685.2" y="273.45" width="2.6" height="14.59" fill="#f5534f"/>
<rect x="689" y="284.18" width="1" height="10.73" fill="#f5534f"/><rect x="688.2" y="287.19" width="2.6" height="7.3" fill="#f5534f"/>
<rect x="692" y="288.05" width="1" height="10.73" fill="#f5534f"/><rect x="691.2" y="292.77" width="2.6" height="4.29" fill="#f5534f"/>
<rect x="694" y="291.91" width="1" height="10.3" fill="#f5534f"/><rect x="693.2" y="294.48" width="2.6" height="6.87" fill="#f5534f"/>
<rect x="697" y="286.76" width="1" height="14.16" fill="#28aa9d"/><rect x="696.2" y="289.33" width="2.6" height="11.16" fill="#28aa9d"/>
<rect x="700" y="271.31" width="1" height="18.45" fill="#28aa9d"/><rect x="699.2" y="273.45" width="2.6" height="15.88" fill="#28aa9d"/>
<rect x="702" y="272.17" width="1" height="9.01" fill="#f5534f"/><rect x="701.2" y="273.45" width="2.6" height="7.3" fill="#f5534f"/>
<rect x="705" y="276.03" width="1" height="13.3" fill="#f5534f"/><rect x="704.2" y="276.46" width="2.6" height="11.59" fill="#f5534f"/>
<rect x="708" y="269.16" width="1" height="21.89" fill="#28aa9d"/><rect x="707.2" y="281.18" width="2.6" height="6.87" fill="#28aa9d"/>
<rect x="711" y="279.89" width="1" height="13.3" fill="#f5534f"/><rect x="710.2" y="280.32" width="2.6" height="12.45" fill="#f5534f"/>
<rect x="713" y="287.19" width="1" height="19.31" fill="#f5534f"/><rect x="712.2" y="287.62" width="2.6" height="18.45" fill="#f5534f"/>
<rect x="716" y="286.76" width="1" height="19.74" fill="#f5534f"/><rect x="715.2" y="295.34" width="2.6" height="10.73" fill="#f5534f"/>
<rect x="718" y="296.2" width="1" height="6.01" fill="#f5534f"/><rect x="717.2" y="297.06" width="2.6" height="4.72" fill="#f5534f"/>
<rect x="721" y="299.21" width="1" height="25.49" fill="#f5534f"/><rect x="720.2" y="299.64" width="2.6" height="24.72" fill="#f5534f"/>
<rect x="723" y="315.09" width="1" height="12.45" fill="#28aa9d"/><rect x="722.2" y="322.81" width="2.6" height="1.55" fill="#28aa9d"/>
</g>
<line x1="-0.65" y1="324.3" x2="874" y2="324.3" stroke="#26a69a" stroke-width="1.4" stroke-dasharray="1.45 1.485"/>
<g stroke="#c01116" stroke-width="1.3" fill="none" stroke-linejoin="miter">
<polyline points="717.5,298 731.6,237.3 742.6,266.6 786,116"/>
<polyline points="717.5,298 723.5,339.4 745,285.6 800.5,478"/>
</g>
<path d="M377.3,44.3 H416.4 A7.5,7.5 0 0 1 423.9,51.8 V70.0 A7.5,7.5 0 0 1 416.4,77.5 H377.5 L341.3,147.4 L369.8,68.5 V51.8 A7.5,7.5 0 0 1 377.3,44.3 Z" fill="rgba(150,20,25,0.52)" stroke="#9a1619" stroke-width="2.1" stroke-linejoin="round"/>
<text x="379.6" y="64.5" font-size="13" font-weight="normal" fill="#f4f2f2" stroke="#f4f2f2" stroke-width="0.7" stroke-linejoin="round" textLength="34.4" lengthAdjust="spacingAndGlyphs">Resist</text>
<path d="M502.5,130.8 H692.3 A7.5,7.5 0 0 1 699.8,138.3 V168 L716,297 L691.5,175.8 H502.5 A7.5,7.5 0 0 1 495,168.3 V138.3 A7.5,7.5 0 0 1 502.5,130.8 Z" fill="rgba(150,20,25,0.52)" stroke="#9a1619" stroke-width="2.1" stroke-linejoin="round"/>
<text x="505" y="150" font-size="13" font-weight="normal" fill="#f4f2f2" stroke="#f4f2f2" stroke-width="0.7" stroke-linejoin="round" textLength="130.6" lengthAdjust="spacingAndGlyphs">2 possible outcomes if</text>
<text x="505" y="162" font-size="13" font-weight="normal" fill="#f4f2f2" stroke="#f4f2f2" stroke-width="0.7" stroke-linejoin="round" textLength="184.5" lengthAdjust="spacingAndGlyphs">certain conditions are approved</text>
<path d="M777.9,193.6 H824.2 A8,8 0 0 1 832.2,201.6 V219.2 A8,8 0 0 1 824.2,227.2 H777.3 L747.7,272.9 L769.9,218.3 V201.6 A8,8 0 0 1 777.9,193.6 Z" fill="rgba(150,20,25,0.52)" stroke="#9a1619" stroke-width="2.1" stroke-linejoin="round"/>
<text x="779.7" y="214" font-size="13" font-weight="normal" fill="#f4f2f2" stroke="#f4f2f2" stroke-width="0.7" stroke-linejoin="round" textLength="42.6" lengthAdjust="spacingAndGlyphs">Retests</text>
<path d="M631.8,463.2 H682.5 A7.5,7.5 0 0 1 690,470.7 V488.1 A7.5,7.5 0 0 1 682.5,495.6 H631.8 A7.5,7.5 0 0 1 624.3,488.1 V471 L606.5,425.6 L632.5,463.2 Z" fill="rgba(150,20,25,0.52)" stroke="#9a1619" stroke-width="2.1" stroke-linejoin="round"/>
<text x="634.6" y="482.8" font-size="13" font-weight="normal" fill="#f4f2f2" stroke="#f4f2f2" stroke-width="0.7" stroke-linejoin="round" textLength="46.3" lengthAdjust="spacingAndGlyphs">Support</text>
<rect x="873.7" y="0" width="1.25" height="550" fill="#86868a"/>
<rect x="0" y="521.25" width="932" height="1.25" fill="#86868a"/>
<rect x="874.5" y="8.99" width="4.1" height="1.1" fill="#86868a"/>
<text x="883.1" y="14.24" font-size="12.6" font-weight="bold" fill="#d0d1d6" textLength="40.6" lengthAdjust="spacingAndGlyphs">109.600</text>
<rect x="874.5" y="43.8" width="4.1" height="1.1" fill="#86868a"/>
<text x="883.1" y="49.05" font-size="12.6" font-weight="bold" fill="#d0d1d6" textLength="40.6" lengthAdjust="spacingAndGlyphs">109.500</text>
<rect x="874.5" y="78.62" width="4.1" height="1.1" fill="#86868a"/>
<text x="883.1" y="83.87" font-size="12.6" font-weight="bold" fill="#d0d1d6" textLength="40.6" lengthAdjust="spacingAndGlyphs">109.400</text>
<rect x="874.5" y="113.5" width="4.1" height="1.1" fill="#86868a"/>
<text x="883.1" y="118.75" font-size="12.6" font-weight="bold" fill="#d0d1d6" textLength="40.6" lengthAdjust="spacingAndGlyphs">109.300</text>
<rect x="874.5" y="147.81" width="4.1" height="1.1" fill="#86868a"/>
<text x="883.1" y="153.06" font-size="12.6" font-weight="bold" fill="#d0d1d6" textLength="40.6" lengthAdjust="spacingAndGlyphs">109.200</text>
<rect x="874.5" y="182.13" width="4.1" height="1.1" fill="#86868a"/>
<text x="883.1" y="187.38" font-size="12.6" font-weight="bold" fill="#d0d1d6" textLength="40.6" lengthAdjust="spacingAndGlyphs">109.100</text>
<rect x="874.5" y="216.71" width="4.1" height="1.1" fill="#86868a"/>
<text x="883.1" y="221.96" font-size="12.6" font-weight="bold" fill="#d0d1d6" textLength="40.6" lengthAdjust="spacingAndGlyphs">109.000</text>
<rect x="874.5" y="251.3" width="4.1" height="1.1" fill="#86868a"/>
<text x="883.1" y="256.55" font-size="12.6" font-weight="bold" fill="#d0d1d6" textLength="40.6" lengthAdjust="spacingAndGlyphs">108.900</text>
<rect x="874.5" y="285.88" width="4.1" height="1.1" fill="#86868a"/>
<text x="883.1" y="291.13" font-size="12.6" font-weight="bold" fill="#d0d1d6" textLength="40.6" lengthAdjust="spacingAndGlyphs">108.800</text>
<rect x="874.5" y="320.47" width="4.1" height="1.1" fill="#86868a"/>
<text x="883.1" y="325.72" font-size="12.6" font-weight="bold" fill="#d0d1d6" textLength="40.6" lengthAdjust="spacingAndGlyphs">108.700</text>
<rect x="874.5" y="355.05" width="4.1" height="1.1" fill="#86868a"/>
<text x="883.1" y="360.3" font-size="12.6" font-weight="bold" fill="#d0d1d6" textLength="40.6" lengthAdjust="spacingAndGlyphs">108.600</text>
<rect x="874.5" y="389.15" width="4.1" height="1.1" fill="#86868a"/>
<text x="883.1" y="394.4" font-size="12.6" font-weight="bold" fill="#d0d1d6" textLength="40.6" lengthAdjust="spacingAndGlyphs">108.500</text>
<rect x="874.5" y="423.7" width="4.1" height="1.1" fill="#86868a"/>
<text x="883.1" y="428.95" font-size="12.6" font-weight="bold" fill="#d0d1d6" textLength="40.6" lengthAdjust="spacingAndGlyphs">108.400</text>
<rect x="874.5" y="458.25" width="4.1" height="1.1" fill="#86868a"/>
<text x="883.1" y="463.5" font-size="12.6" font-weight="bold" fill="#d0d1d6" textLength="40.6" lengthAdjust="spacingAndGlyphs">108.300</text>
<rect x="874.5" y="492.8" width="4.1" height="1.1" fill="#86868a"/>
<text x="883.1" y="498.05" font-size="12.6" font-weight="bold" fill="#d0d1d6" textLength="40.6" lengthAdjust="spacingAndGlyphs">108.200</text>
<rect x="88.12" y="522" width="1.1" height="3.3" fill="#86868a"/>
<text x="82.47" y="541.7" font-size="12.7" font-weight="bold" fill="#d0d1d6" textLength="12.3" lengthAdjust="spacingAndGlyphs">11</text>
<rect x="214.82" y="522" width="1.1" height="3.3" fill="#86868a"/>
<text x="209.17" y="541.7" font-size="12.7" font-weight="bold" fill="#d0d1d6" textLength="12.3" lengthAdjust="spacingAndGlyphs">12</text>
<rect x="341.52" y="522" width="1.1" height="3.3" fill="#86868a"/>
<text x="335.87" y="541.7" font-size="12.7" font-weight="bold" fill="#d0d1d6" textLength="12.3" lengthAdjust="spacingAndGlyphs">13</text>
<rect x="468.22" y="522" width="1.1" height="3.3" fill="#86868a"/>
<text x="462.57" y="541.7" font-size="12.7" font-weight="bold" fill="#d0d1d6" textLength="12.3" lengthAdjust="spacingAndGlyphs">14</text>
<rect x="594.92" y="522" width="1.1" height="3.3" fill="#86868a"/>
<text x="589.27" y="541.7" font-size="12.7" font-weight="bold" fill="#d0d1d6" textLength="12.3" lengthAdjust="spacingAndGlyphs">15</text>
<rect x="721.62" y="522" width="1.1" height="3.3" fill="#86868a"/>
<text x="715.97" y="541.7" font-size="12.7" font-weight="bold" fill="#d0d1d6" textLength="12.3" lengthAdjust="spacingAndGlyphs">18</text>
<rect x="848.32" y="522" width="1.1" height="3.3" fill="#86868a"/>
<text x="842.67" y="541.7" font-size="12.7" font-weight="bold" fill="#d0d1d6" textLength="12.3" lengthAdjust="spacingAndGlyphs">19</text>
<rect x="873.6" y="314" width="58.4" height="19.1" fill="#26a69a"/>
<rect x="874.4" y="323.8" width="3.4" height="1.1" fill="#e8f3f1"/>
<text x="882.9" y="327.9" font-size="12.6" font-weight="bold" fill="#ffffff" textLength="40" lengthAdjust="spacingAndGlyphs">108.691</text>
<rect x="891" y="334.1" width="41" height="17.9" fill="#26a69a"/>
<text x="895.8" y="347.1" font-size="12.6" font-weight="bold" fill="#ffffff" textLength="28.4" lengthAdjust="spacingAndGlyphs">10:30</text>
<text x="8.25" y="21.5" font-size="14" font-weight="bold" fill="#dedbdc" xml:space="preserve"><tspan x="8.25" textLength="21.75" lengthAdjust="spacingAndGlyphs">U.S.</tspan> <tspan x="34.25" textLength="33.35" lengthAdjust="spacingAndGlyphs">Dollar</tspan> <tspan x="71.6">/</tspan> <tspan x="79.5" textLength="52.6" lengthAdjust="spacingAndGlyphs">Japanese</tspan> <tspan x="135.25" textLength="24.35" lengthAdjust="spacingAndGlyphs">Yen,</tspan> <tspan x="163.9" textLength="15.5" lengthAdjust="spacingAndGlyphs">30,</tspan> <tspan x="184.5" textLength="31.7" lengthAdjust="spacingAndGlyphs">FXCM</tspan></text>
</svg></body></html>
